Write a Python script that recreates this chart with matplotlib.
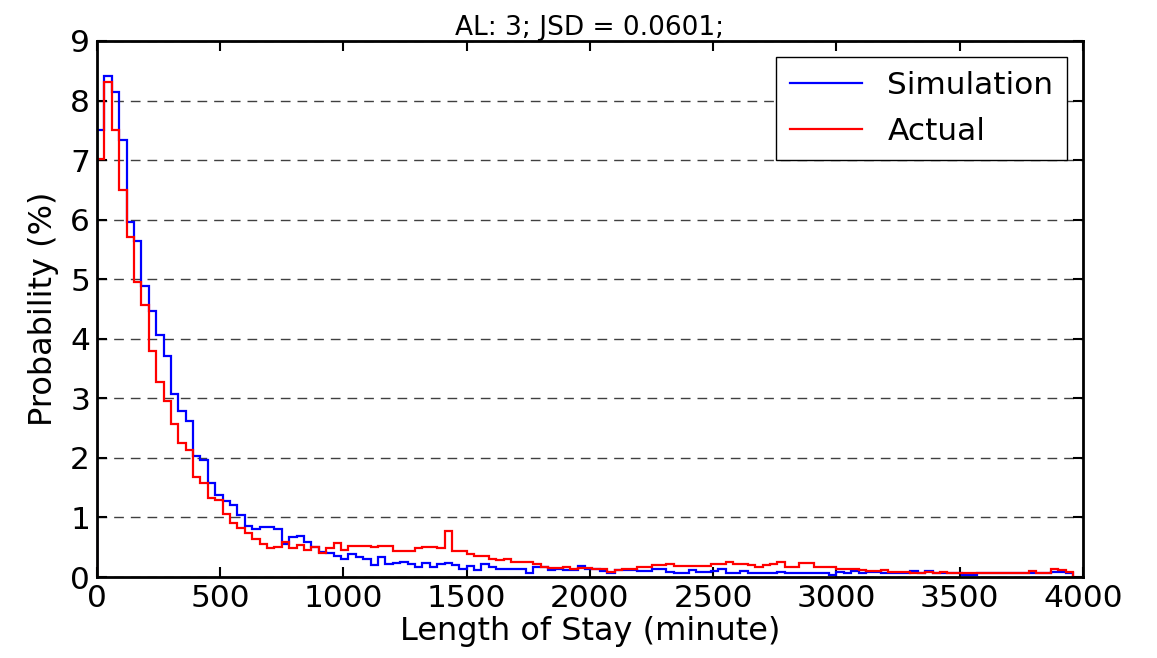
import matplotlib
matplotlib.use('Agg')
import matplotlib.pyplot as plt
import numpy as np

# histogram bins: 30 minute wide, starting at 0
bin_width = 30

# probability (%) per bin
simulation = [7.50, 8.41, 8.15, 7.34, 5.96, 5.64, 4.88, 4.46, 4.06, 3.71,
              3.08, 2.78, 2.62, 2.03, 1.96, 1.57, 1.38, 1.27, 1.21, 1.04,
              0.86, 0.80, 0.84, 0.84, 0.80, 0.55, 0.68, 0.69, 0.58, 0.50,
              0.42, 0.41, 0.36, 0.31, 0.38, 0.34, 0.31, 0.20, 0.34, 0.21,
              0.24, 0.25, 0.21, 0.17, 0.24, 0.17, 0.21, 0.24, 0.20, 0.14,
              0.19, 0.12, 0.21, 0.16, 0.14, 0.14, 0.14, 0.14, 0.07, 0.16,
              0.16, 0.12, 0.14, 0.11, 0.11, 0.18, 0.14, 0.13, 0.10, 0.07,
              0.12, 0.12, 0.12, 0.10, 0.10, 0.13, 0.13, 0.08, 0.07, 0.07,
              0.12, 0.08, 0.08, 0.10, 0.13, 0.06, 0.07, 0.10, 0.07, 0.07,
              0.07, 0.07, 0.09, 0.06, 0.06, 0.06, 0.06, 0.06, 0.06, 0.03,
              0.09, 0.06, 0.10, 0.06, 0.09, 0.09, 0.07, 0.06, 0.06, 0.06,
              0.10, 0.06, 0.10, 0.06, 0.07, 0.06, 0.06, 0.04, 0.04, 0.07,
              0.06, 0.06, 0.06, 0.06, 0.06, 0.06, 0.07, 0.07, 0.06, 0.08,
              0.08, 0.06]
actual = [7.02, 8.31, 7.50, 6.49, 5.71, 4.96, 4.56, 3.80, 3.28, 2.95,
          2.57, 2.25, 2.14, 1.68, 1.57, 1.32, 1.30, 1.06, 0.91, 0.82,
          0.74, 0.63, 0.55, 0.48, 0.50, 0.58, 0.48, 0.54, 0.46, 0.50,
          0.41, 0.49, 0.57, 0.46, 0.52, 0.52, 0.52, 0.50, 0.52, 0.52,
          0.44, 0.44, 0.44, 0.48, 0.50, 0.50, 0.48, 0.77, 0.43, 0.43,
          0.38, 0.36, 0.35, 0.31, 0.28, 0.30, 0.26, 0.26, 0.26, 0.21,
          0.17, 0.15, 0.15, 0.17, 0.14, 0.15, 0.15, 0.13, 0.13, 0.08,
          0.12, 0.13, 0.13, 0.17, 0.17, 0.20, 0.20, 0.22, 0.19, 0.19,
          0.19, 0.18, 0.18, 0.21, 0.21, 0.25, 0.21, 0.21, 0.20, 0.17,
          0.20, 0.21, 0.25, 0.17, 0.16, 0.24, 0.24, 0.17, 0.16, 0.17,
          0.14, 0.14, 0.14, 0.11, 0.10, 0.10, 0.11, 0.09, 0.09, 0.09,
          0.07, 0.07, 0.09, 0.06, 0.09, 0.07, 0.07, 0.06, 0.06, 0.07,
          0.06, 0.06, 0.07, 0.07, 0.07, 0.07, 0.10, 0.07, 0.07, 0.13,
          0.11, 0.09]

x_ticks = np.arange(0, 4001, 500)
y_ticks = np.arange(0, 10, 1)
title = 'AL: 3; JSD = 0.0601;'

edges = np.arange(len(simulation) + 1) * bin_width

fig = plt.figure(figsize=(11.57, 6.58), dpi=100)
ax = fig.add_axes([0.0838, 0.1231, 0.8522, 0.8146])

ax.stairs(simulation, edges, color='blue', lw=1.6, label='Simulation')
ax.stairs(actual, edges, color='red', lw=1.6, label='Actual')

ax.set_xlim(0, 4000)
ax.set_ylim(0, 9)
ax.set_xticks(x_ticks)
ax.set_yticks(y_ticks)
ax.tick_params(direction='in', length=7, width=1.5, labelsize=22.5,
               top=True, right=True, pad=5)
for s in ax.spines.values():
    s.set_linewidth(2)
ax.yaxis.grid(True, linestyle=(0, (7, 5)), color='0.25', lw=1)
ax.set_axisbelow(True)

ax.set_xlabel('Length of Stay (minute)', fontsize=23, labelpad=2)
ax.set_ylabel('Probability (%)', fontsize=23, labelpad=8)
ax.set_title(title, fontsize=19, pad=4)

leg = ax.legend(loc='upper right', fontsize=22.5, fancybox=False,
                edgecolor='black', framealpha=1, borderaxespad=0.5,
                handlelength=2.3, borderpad=0.45, labelspacing=0.55)
leg.get_frame().set_linewidth(1)

fig.savefig('out.png', dpi=100)
